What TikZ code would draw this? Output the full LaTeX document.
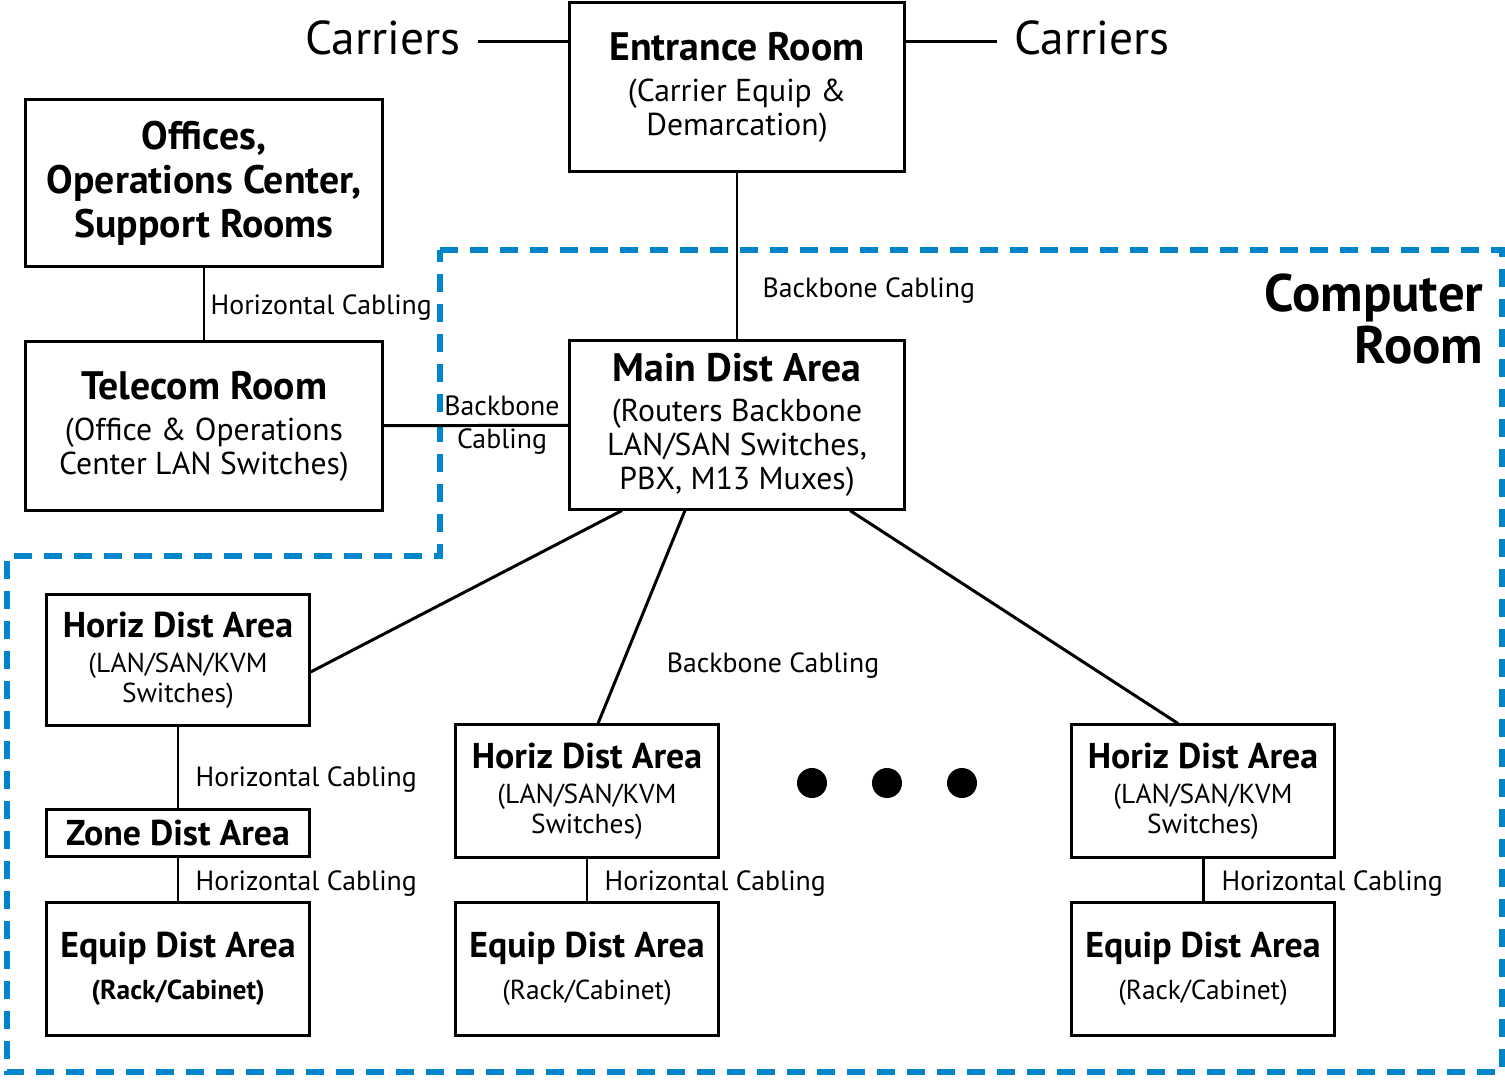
\documentclass[tikz,border=0pt]{standalone}
\usepackage{fontspec}
\setmainfont{PT Sans}
\usepackage{tikz}
\pgfdeclarelayer{bg}
\pgfsetlayers{bg,main}
\definecolor{roomblue}{RGB}{0,133,202}
\newcommand{\hd}[1]{{\fontsize{11.3}{12}\selectfont\bfseries #1}}
\newcommand{\shd}[1]{{\fontsize{10.2}{12}\selectfont\bfseries #1}}
\tikzset{
    area/.style={draw, line width=0.85pt, align=center, inner sep=0pt,
        font=\fontsize{9}{9.7}\selectfont},
    smallarea/.style={area, minimum width=2.62cm, minimum height=1.32cm,
        font=\fontsize{7.8}{8.5}\selectfont},
    cabling/.style={font=\fontsize{7.9}{9.4}\selectfont, inner sep=0pt},
    carrier/.style={font=\fontsize{13.5}{15}\selectfont, inner sep=0pt},
    wire/.style={line width=0.85pt},
    roomline/.style={roomblue, line width=1.7pt, dash pattern=on 0.18cm off 0.12cm},
    dot/.style={circle, fill, minimum size=0.3cm, inner sep=0pt}
}

\begin{document}
\begin{tikzpicture}[x=0.01cm, y=-0.01cm]
  \useasboundingbox (0,0) rectangle (1505,1081);

  \node (entr) [area, minimum width=3.35cm, minimum height=1.69cm] at (737,87)
    {\hd{Entrance Room}\\[2pt] (Carrier Equip \&\\ Demarcation)};
  \node (offc) [area, minimum width=3.56cm, minimum height=1.67cm,
    font=\fontsize{11.3}{12.5}\selectfont\bfseries] at (204,183)
    {Offices,\\ Operations Center,\\ Support Rooms};
  \node (tele) [area, minimum width=3.56cm, minimum height=1.68cm] at (204,426)
    {\hd{Telecom Room}\\[2pt] (Office \& Operations\\ Center LAN Switches)};
  \node (main) [area, minimum width=3.35cm, minimum height=1.68cm] at (737,425)
    {\hd{Main Dist Area}\\[1.5pt] (Routers Backbone\\ LAN/SAN Switches,\\ PBX, M13 Muxes)};

  \node (hda1) [smallarea, minimum height=1.31cm] at (178,660)
    {\shd{Horiz Dist Area}\\[1.5pt] (LAN/SAN/KVM\\ Switches)};
  \node (zone) [smallarea, minimum height=0.47cm] at (178,833)
    {\shd{Zone Dist Area}};
  \node (eda1) [smallarea] at (178,969)
    {\shd{Equip Dist Area}\\[3.5pt] \textbf{(Rack/Cabinet)}};
  \node (hda2) [smallarea] at (587,791)
    {\shd{Horiz Dist Area}\\[1.5pt] (LAN/SAN/KVM\\ Switches)};
  \node (eda2) [smallarea] at (587,969)
    {\shd{Equip Dist Area}\\[3.5pt] (Rack/Cabinet)};
  \node (hda3) [smallarea] at (1203,791)
    {\shd{Horiz Dist Area}\\[1.5pt] (LAN/SAN/KVM\\ Switches)};
  \node (eda3) [smallarea] at (1203,969)
    {\shd{Equip Dist Area}\\[3.5pt] (Rack/Cabinet)};

  \node (carL) [carrier] at (383,38) {Carriers};
  \node (carR) [carrier] at (1092,38) {Carriers};

  \node (d1) [dot] at (812,783) {};
  \node (d2) [dot] at (887,783) {};
  \node (d3) [dot] at (962,783) {};

  \node (room) [anchor=east, align=right, inner sep=0pt,
    font=\fontsize{15}{14.8}\selectfont\bfseries] at (1484,319) {Computer\\ Room};

  % cable labels
  \node (lb1) [cabling, anchor=west] at (210,308) {Horizontal Cabling};
  \node (lb2) [cabling, anchor=west] at (762,291) {Backbone Cabling};
  \node (lb3) [cabling, align=center] at (502,425) {Backbone\\ Cabling};
  \node (lb4) [cabling] at (773,666) {Backbone Cabling};
  \node (lb5) [cabling, anchor=west] at (195,780) {Horizontal Cabling};
  \node (lb6) [cabling, anchor=west] at (195,884) {Horizontal Cabling};
  \node (lb7) [cabling, anchor=west] at (604,884) {Horizontal Cabling};
  \node (lb8) [cabling, anchor=west] at (1221,884) {Horizontal Cabling};

  \begin{pgfonlayer}{bg}
    \draw [roomline] (440,250) -- (1502,250) -- (1502,1072) -- (7,1072)
      -- (7,556) -- (440,556) -- cycle;
  \end{pgfonlayer}

  \draw [wire] ([xshift=0.17cm, yshift=-0.03cm]carL.east) -- ([yshift=-0.03cm]carL.east -| entr.west);
  \draw [wire] ([yshift=-0.03cm]carR.west -| entr.east) -- ([xshift=-0.17cm, yshift=-0.03cm]carR.west);
  \draw [wire] (entr) edge (main);
  \draw [wire] (offc) edge (tele);
  \draw [wire] (tele) edge (main);
  \draw [wire] ([xshift=-1.15cm]main.south) -- ([yshift=-0.12cm]hda1.east);
  \draw [wire] ([xshift=-0.52cm]main.south) -- ([xshift=0.11cm]hda2.north);
  \draw [wire] ([xshift=1.13cm]main.south) -- ([xshift=-0.25cm]hda3.north);
  \draw [wire] (hda1) edge (zone);
  \draw [wire] (zone) edge (eda1);
  \draw [wire] (hda2) edge (eda2);
  \draw [wire] (hda3) edge (eda3);
\end{tikzpicture}
\end{document}
